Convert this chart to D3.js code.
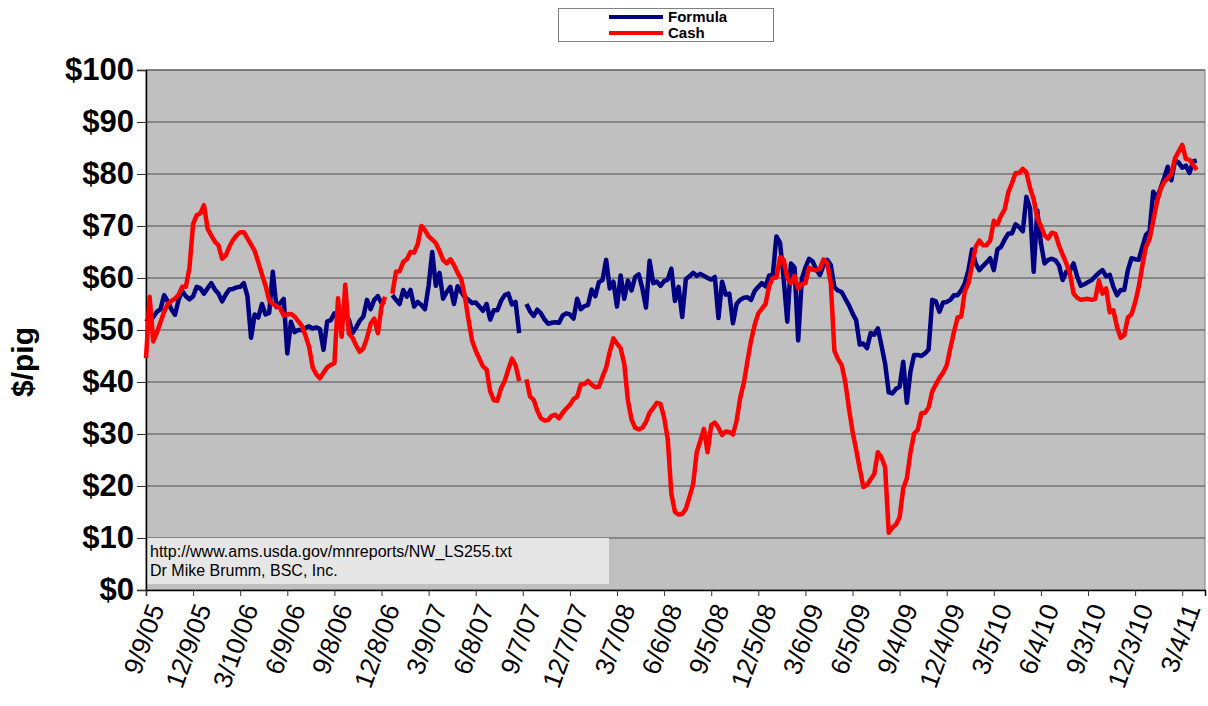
<!DOCTYPE html>
<html>
<head>
<meta charset="utf-8">
<script src="https://cdn.jsdelivr.net/npm/d3@7"></script>
<style>
  body { margin: 0; background: #fff; }
  svg { display: block; font-family: "Liberation Sans", Arial, sans-serif; }
</style>
</head>
<body>
<div id="chart"></div>
<script>
// weekly prices, first week 9/9/05 (null = no report that week)
var startDate = "9/9/05";

var formula = [
  52.2, 51.5, 52.5, 53.5, 54, 56.7, 55.5, 54, 52.9, 55.8,
  57.5, 56.5, 55.9, 56.5, 58.3, 58, 57, 58, 59, 57.8,
  57, 55.5, 56.8, 57.8, 57.9, 58.2, 58.3, 59, 56.5, 48.5,
  53, 52.4, 55, 53, 53.3, 61.2, 54.4, 55.1, 56, 45.5,
  51.6, 49.6, 50, 50, 50.4, 50.7, 50.3, 50.5, 50.2, 46.2,
  51.6, 51.9, 53.2, 52, 53.5, 52.6, 52, 49.4, 50.5, 51.8,
  52.6, 55.8, 54, 55.8, 56.5, 55.2, 55.4, null, 56.7, 55.8,
  55, 57.7, 56.4, 57.7, 54.5, 55.4, 54.8, 54, 58.5, 65,
  58.5, 61, 56, 57.3, 58.3, 55, 58.4, 57.3, 56.3, 55.8,
  55.2, 55.3, 54.5, 53.7, 55, 52, 53.8, 53.8, 55.6, 56.7,
  57, 54.9, 55.4, 49.4, null, 55, 53.6, 52.7, 53.9, 53.2,
  52, 51.2, 51.4, 51.5, 51.4, 52.8, 53.2, 53, 52.2, 56,
  54, 54.6, 54.8, 57.8, 56.5, 59.2, 59.6, 63.5, 58, 59.3,
  54.5, 60.5, 56, 59.5, 57.6, 60.2, 60.7, 58, 54.3, 63.3,
  59, 59.3, 58.5, 59.4, 59.7, 61.8, 55.6, 58.3, 52.5, 59.8,
  60.3, 61, 60.4, 60.8, 60.4, 60, 59.7, 60.2, 52.3, 59.3,
  56.8, 57, 51.3, 55, 55.8, 56.2, 56.3, 55.8, 57.5, 58.3,
  59, 58.4, 60.5, 60.6, 68, 66.8, 59.8, 51.6, 62.8, 62,
  48, 59.8, 62, 63.7, 63.2, 61.6, 60.6, 62.4, 63.5, 62.5,
  58.2, 57.6, 57.3, 56, 54.8, 53.2, 51.9, 47.2, 47.4, 46.5,
  49.4, 49.1, 50.3, 47, 43.5, 38, 37.8, 38.7, 39.1, 43.9,
  36, 42, 45.2, 45.2, 45, 45.5, 46.2, 55.8, 55.5, 53.5,
  55.3, 55.4, 55.8, 56.7, 56.7, 57.6, 59, 61.5, 65.5, 62.8,
  61.5, 62.3, 63, 63.8, 61.5, 65.5, 66, 67.4, 68.5, 68.6,
  70.3, 69.8, 69, 75.6, 73.4, 61.2, 73, 66.7, 62.8, 63.5,
  63.7, 63.4, 62.4, 59.6, 61.2, 61.4, 62.8, 60.3, 58.5, 58.8,
  59.2, 59.6, 60.3, 61, 61.5, 60.3, 60.6, 58.3, 56.7, 57.7,
  57.7, 61.5, 63.8, 63.6, 63.5, 66, 68.3, 69, 76.6, 75.3,
  77.2, 79.2, 81.4, 78.8, 82.6, 82.2, 81.2, 81.6, 80.2, 82.4,
  82.6
];

var cash = [
  44.6, 56.4, 47.8, 49.5, 51.5, 53.5, 55, 55.6, 56, 56.8,
  58.3, 58.3, 62, 70.4, 72.1, 72.4, 74, 69.5, 68.2, 67,
  66.3, 63.7, 64.3, 66, 67.3, 68.2, 68.8, 68.8, 67.6, 66.4,
  65.2, 63, 60.7, 58.5, 55.7, 55, 54.6, 54.2, 52.8, 53,
  53.1, 52.6, 51.7, 50.8, 49, 46.8, 42.8, 41.5, 40.7, 41.8,
  42.8, 43.3, 43.6, 56.1, 48.7, 58.7, 49.3, 48.5, 47, 45.8,
  46.5, 48.5, 51.2, 52.2, 49.4, 54.5, 56.4, null, 57, 61.2,
  61.3, 63.1, 63.6, 65, 64.9, 66.5, 70, 69.2, 68, 67.4,
  66.7, 65.2, 63.5, 62.8, 63.6, 62.5, 61, 59.8, 56.5, 52,
  48, 46, 44.5, 43, 42.4, 38.2, 36.5, 36.4, 38.8, 40.2,
  42.4, 44.5, 43.2, 40.2, null, 40.5, 37.2, 36.6, 34.5, 33,
  32.6, 32.7, 33.5, 33.7, 33, 34.1, 34.9, 35.6, 36.7, 37.2,
  39.5, 39.6, 40.2, 39.5, 39, 39.1, 41, 42.8, 45.8, 48.4,
  47.4, 46.5, 43.5, 36.5, 32.8, 31.2, 30.9, 31.2, 32.3, 34.1,
  35, 36, 35.8, 33.2, 29, 18.5, 15, 14.5, 14.6, 15.6,
  17.9, 20.3, 26.5, 28.7, 31, 26.5, 31.7, 32.2, 31.2, 29.8,
  30.5, 30.4, 29.9, 32.5, 37, 39.8, 44, 48, 51, 53.2,
  54.1, 55, 58.5, 60, 60.1, 64, 63.5, 60, 59, 60.4,
  58, 58.8, 59, 62, 61.6, 61.5, 61.8, 63.6, 62.8, 59,
  46, 44.4, 43.3, 40, 35, 30.5, 27, 23.3, 19.8, 20.2,
  21.3, 22.3, 26.5, 25.5, 23.6, 11, 12, 12.6, 14, 19.5,
  21.5, 26.5, 30.1, 30.8, 34, 34.1, 35.1, 38.2, 39.5, 40.8,
  41.8, 43.2, 46.5, 49.6, 52.4, 52.6, 57.5, 59, 62.5, 66,
  67.2, 66.3, 66.3, 67.2, 71, 70.3, 72, 73.2, 76.5, 78.2,
  80.2, 80.2, 81, 80.3, 77.3, 75.2, 71.5, 70, 68.2, 67.6,
  68.7, 68.5, 66.2, 64.5, 62.8, 60.9, 57, 56.2, 55.8, 55.9,
  56, 55.8, 56, 59.5, 57, 58, 53.4, 53.8, 50.6, 48.5,
  49, 52.4, 53, 55.3, 58.3, 62.4, 66, 67.5, 71, 74.5,
  77, 78.4, 79.2, 80, 83, 84.3, 85.6, 82.9, 82.7, 81.8,
  80.8
];

var tickLabels = ["9/9/05", "12/9/05", "3/10/06", "6/9/06", "9/8/06", "12/8/06",
  "3/9/07", "6/8/07", "9/7/07", "12/7/07", "3/7/08", "6/6/08", "9/5/08",
  "12/5/08", "3/6/09", "6/5/09", "9/4/09", "12/4/09", "3/5/10", "6/4/10",
  "9/3/10", "12/3/10", "3/4/11"];
var yTicks = [0, 10, 20, 30, 40, 50, 60, 70, 80, 90, 100];
var seriesNames = ["Formula", "Cash"];
var seriesColors = ["#000080", "#ff0000"];
var sourceLines = ["http://www.ams.usda.gov/mnreports/NW_LS255.txt", "Dr Mike Brumm, BSC, Inc."];

var W = 1208, H = 706;
var pLeft = 146, pRight = 1205, pTop = 70, pBottom = 590;

var parse = d3.timeParse("%m/%d/%y");
var t0 = parse(startDate);
var dateOf = function(i) { return d3.timeDay.offset(t0, 7 * i); };

var x = d3.scaleTime()
  .domain([t0, d3.timeDay.offset(t0, 7 * 292.4)])
  .range([pLeft, pRight]);
var y = d3.scaleLinear().domain([0, 100]).range([pBottom, pTop]);

var svg = d3.select("#chart").append("svg")
  .attr("width", W).attr("height", H);

// plot area
svg.append("rect")
  .attr("x", pLeft).attr("y", pTop)
  .attr("width", pRight - pLeft).attr("height", pBottom - pTop)
  .attr("fill", "#c0c0c0")
  .attr("stroke", "#808080").attr("stroke-width", 1);

svg.append("g").selectAll("line")
  .data(yTicks.slice(1))
  .enter().append("line")
    .attr("x1", pLeft).attr("x2", pRight)
    .attr("y1", function(d) { return y(d); })
    .attr("y2", function(d) { return y(d); })
    .attr("stroke", "#4d4d4d").attr("stroke-width", 1.2);

// source note
var note = svg.append("g");
note.append("rect")
  .attr("x", pLeft + 1).attr("y", 538)
  .attr("width", 462).attr("height", 46)
  .attr("fill", "#e6e6e6");
note.selectAll("text")
  .data(sourceLines)
  .enter().append("text")
    .attr("x", pLeft + 4)
    .attr("y", function(d, i) { return 557 + i * 19; })
    .style("font-size", "16px")
    .text(function(d) { return d; });

// axes
var yAxis = svg.append("g")
  .attr("transform", "translate(" + pLeft + ",0)")
  .call(d3.axisLeft(y).tickValues(yTicks).tickSize(9).tickPadding(3)
    .tickFormat(function(d) { return "$" + d; }));
yAxis.select(".domain").attr("stroke", "#000").attr("stroke-width", 1.5);
yAxis.selectAll(".tick line").attr("stroke", "#333");
yAxis.selectAll("text")
  .style("font-size", "31px").style("font-weight", "bold")
  .attr("fill", "#000");

var xAxis = svg.append("g")
  .attr("transform", "translate(0," + pBottom + ")")
  .call(d3.axisBottom(x)
    .tickValues(tickLabels.map(parse))
    .tickSize(6)
    .tickFormat(function(d, i) { return tickLabels[i]; }));
xAxis.select(".domain").attr("stroke", "#000").attr("stroke-width", 1.5);
xAxis.selectAll(".tick line").attr("stroke", "#333");
xAxis.selectAll("text")
  .style("font-size", "26px")
  .style("text-anchor", "end")
  .attr("fill", "#000")
  .attr("x", 0).attr("y", 0).attr("dy", "0.7em")
  .attr("transform", "translate(1,12) rotate(-70)");

svg.append("text")
  .attr("transform", "translate(33,362) rotate(-90)")
  .style("text-anchor", "middle")
  .style("font-size", "30px").style("font-weight", "bold")
  .text("$/pig");

// lines
var line = d3.line()
  .defined(function(d) { return d != null; })
  .x(function(d, i) { return x(dateOf(i)); })
  .y(function(d) { return y(d); });

svg.append("g").selectAll("path")
  .data([formula, cash])
  .enter().append("path")
    .attr("d", line)
    .attr("fill", "none")
    .attr("stroke", function(d, i) { return seriesColors[i]; })
    .attr("stroke-width", 4.5)
    .attr("stroke-linejoin", "round");

// legend
var legend = svg.append("g");
legend.append("rect")
  .attr("x", 558.5).attr("y", 8.5)
  .attr("width", 215).attr("height", 33)
  .attr("fill", "#fff").attr("stroke", "#808080");
var item = legend.selectAll(".item")
  .data(seriesNames)
  .enter().append("g")
    .attr("transform", function(d, i) { return "translate(0," + (17 + i * 16) + ")"; });
item.append("line")
  .attr("x1", 609).attr("x2", 663)
  .attr("stroke", function(d, i) { return seriesColors[i]; })
  .attr("stroke-width", 4);
item.append("text")
  .attr("x", 668).attr("dy", "0.35em")
  .style("font-size", "15px").style("font-weight", "bold")
  .text(function(d) { return d; });
</script>
</body>
</html>
